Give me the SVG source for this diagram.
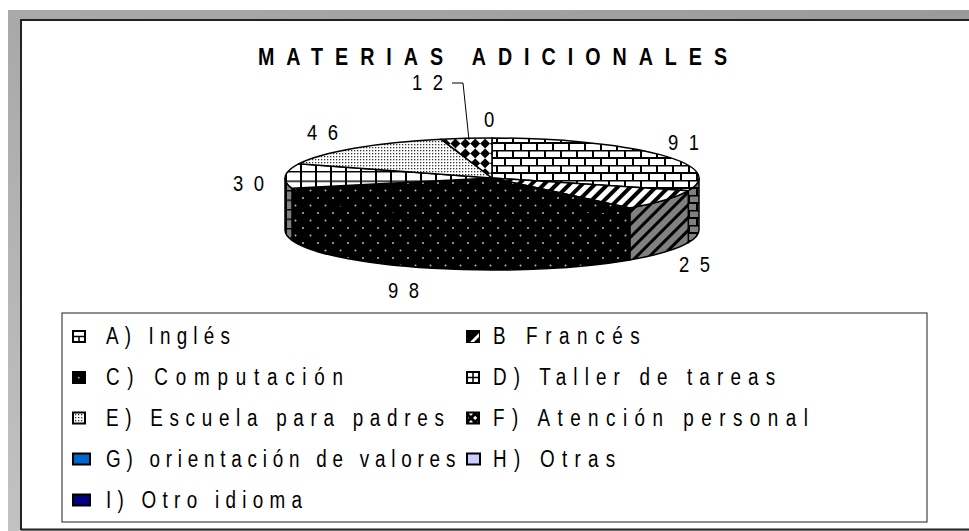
<svg xmlns="http://www.w3.org/2000/svg" width="969" height="531" viewBox="0 0 969 531">
<style>
.t{font-family:"Liberation Sans",Arial,sans-serif;fill:#000}
.title{font-size:24px;font-weight:bold}
.lab{font-size:22px}
.leg{font-size:23px}
.sl{stroke:#000;stroke-width:1.5;stroke-linejoin:round}
.mk{stroke:#000;stroke-width:2}
</style>
<defs>
<linearGradient id="gTop" x1="0" y1="0" x2="1" y2="0"><stop offset="0" stop-color="#aaaaaa"/><stop offset="1" stop-color="#9a9a9a"/></linearGradient>
<linearGradient id="gLeft" x1="0" y1="0" x2="0" y2="1"><stop offset="0" stop-color="#a8a8a8"/><stop offset="1" stop-color="#c2c2c2"/></linearGradient>
<pattern id="brick" patternUnits="userSpaceOnUse" width="16" height="15">
<rect width="16" height="15" fill="#fff"/>
<path d="M0 0.5H16M0 8H16M1 0V8M9 8V15" stroke="#000" stroke-width="2"/>
</pattern>
<pattern id="brickS" patternUnits="userSpaceOnUse" width="16" height="15">
<rect width="16" height="15" fill="#808080"/>
<path d="M0 0.5H16M0 8H16M1 0V8M9 8V15" stroke="#000" stroke-width="2"/>
</pattern>
<pattern id="stripe" patternUnits="userSpaceOnUse" width="9" height="9" patternTransform="rotate(45)">
<rect width="9" height="9" fill="#fff"/><rect width="4" height="9" fill="#000"/>
</pattern>
<pattern id="stripeS" patternUnits="userSpaceOnUse" width="9" height="9" patternTransform="rotate(45)">
<rect width="9" height="9" fill="#808080"/><rect width="3" height="9" fill="#000"/>
</pattern>
<pattern id="dots" patternUnits="userSpaceOnUse" width="15" height="15">
<rect width="15" height="15" fill="#000"/>
<circle cx="3" cy="3" r="1" fill="#bbb"/><circle cx="10.5" cy="10.5" r="1" fill="#bbb"/>
</pattern>
<pattern id="grid" patternUnits="userSpaceOnUse" width="15" height="9.5">
<rect width="15" height="9.5" fill="#fff"/>
<path d="M0 0.5H15M1 0V9.5" stroke="#000" stroke-width="2"/>
</pattern>
<pattern id="gridS" patternUnits="userSpaceOnUse" width="15" height="9.5">
<rect width="15" height="9.5" fill="#808080"/>
<path d="M0 0.5H15M1 0V9.5" stroke="#000" stroke-width="2"/>
</pattern>
<pattern id="stip" patternUnits="userSpaceOnUse" width="3" height="3">
<rect width="3" height="3" fill="#fff"/><rect width="1.3" height="1.3" fill="#333"/>
</pattern>
<pattern id="check" patternUnits="userSpaceOnUse" width="14" height="14" patternTransform="rotate(45)">
<rect width="14" height="14" fill="#fff"/><rect width="7" height="7" fill="#000"/><rect x="7" y="7" width="7" height="7" fill="#000"/>
</pattern>
<pattern id="checkM" patternUnits="userSpaceOnUse" width="6" height="6" patternTransform="rotate(45)">
<rect width="6" height="6" fill="#000"/><rect width="3" height="3" fill="#fff"/>
</pattern>
</defs>

<g id="frame">
<rect x="8" y="10" width="961" height="521" fill="url(#gLeft)"/>
<rect x="8" y="10" width="961" height="9" fill="url(#gTop)"/>
<rect x="20" y="19" width="949" height="511" fill="#fff"/>
<path d="M21 530V20H969" fill="none" stroke="#222" stroke-width="2"/>
<path d="M21 529.5H969" fill="none" stroke="#222" stroke-width="2"/>
</g>

<text id="title" class="t title" transform="translate(258 65) scale(0.82 1)" textLength="572" lengthAdjust="spacing">MATERIAS ADICIONALES</text>

<g id="pie">
<g id="sides">
<path class="sl" fill="url(#brickS)" d="M699 178A207 40 0 0 1 688.3 190.7L688.3 242.7A207 40 0 0 0 699 230Z"/>
<path class="sl" fill="url(#stripeS)" d="M688.3 190.7A207 40 0 0 1 629.8 207.9L629.8 259.9A207 40 0 0 0 688.3 242.7Z"/>
<path class="sl" fill="url(#dots)" d="M629.8 207.9A207 40 0 0 1 292 188.3L292 240.3A207 40 0 0 0 629.8 259.9Z"/>
<path class="sl" fill="url(#gridS)" d="M292 188.3A207 40 0 0 1 285 178L285 230A207 40 0 0 0 292 240.3Z"/>
</g>
<g id="slice-A"><path class="sl" fill="url(#brick)" d="M492 178L492 138A207 40 0 0 1 688.3 190.7Z"/></g>
<g id="slice-B"><path class="sl" fill="url(#stripe)" d="M492 178L688.3 190.7A207 40 0 0 1 629.8 207.9Z"/></g>
<g id="slice-C"><path class="sl" fill="url(#dots)" d="M492 178L629.8 207.9A207 40 0 0 1 292 188.3Z"/></g>
<g id="slice-D"><path class="sl" fill="url(#grid)" d="M492 178L292 188.3A207 40 0 0 1 298.6 163.8Z"/></g>
<g id="slice-E"><path class="sl" fill="url(#stip)" d="M492 178L298.6 163.8A207 40 0 0 1 440.9 139.2Z"/></g>
<g id="slice-F"><path class="sl" fill="url(#check)" d="M492 178L440.9 139.2A207 40 0 0 1 492 138Z"/></g>
</g>

<g id="connectors">
<path d="M452 83H463L469 140" fill="none" stroke="#000" stroke-width="1"/>
</g>

<g id="labels">
<text class="t lab" transform="translate(412 90) scale(0.84 1)" textLength="37" lengthAdjust="spacing">12</text>
<text class="t lab" transform="translate(484 127) scale(0.84 1)">0</text>
<text class="t lab" transform="translate(307 140) scale(0.84 1)" textLength="37" lengthAdjust="spacing">46</text>
<text class="t lab" transform="translate(668 150) scale(0.84 1)" textLength="37" lengthAdjust="spacing">91</text>
<text class="t lab" transform="translate(233 191) scale(0.84 1)" textLength="37" lengthAdjust="spacing">30</text>
<text class="t lab" transform="translate(679 272) scale(0.84 1)" textLength="37" lengthAdjust="spacing">25</text>
<text class="t lab" transform="translate(388 298) scale(0.84 1)" textLength="37" lengthAdjust="spacing">98</text>
</g>

<g id="legend">
<rect x="62" y="313" width="865" height="209" fill="#fff" stroke="#444" stroke-width="1.2"/>
<g id="leg-A"><rect class="mk" x="73" y="331" width="12" height="11" fill="#fff"/><path d="M73 336.5H85M79 336.5V342" stroke="#000" stroke-width="1.5"/><text class="t leg" transform="translate(106 344) scale(0.82 1)" textLength="151" lengthAdjust="spacing">A) Inglés</text></g>
<g id="leg-B"><rect class="mk" x="467" y="331" width="12" height="11" fill="#000"/><path d="M470 342L479 333V337L474 342Z" fill="#fff"/><text class="t leg" transform="translate(493 344) scale(0.82 1)" textLength="179" lengthAdjust="spacing">B Francés</text></g>
<g id="leg-C"><rect class="mk" x="73" y="372" width="12" height="11" fill="#000"/><rect x="78" y="377" width="1.5" height="1.5" fill="#aaa"/><text class="t leg" transform="translate(106 385) scale(0.82 1)" textLength="289" lengthAdjust="spacing">C) Computación</text></g>
<g id="leg-D"><rect class="mk" x="467" y="372" width="12" height="11" fill="#fff"/><path d="M467 377.5H479M473 372V383" stroke="#000" stroke-width="1.5"/><text class="t leg" transform="translate(493 385) scale(0.82 1)" textLength="344" lengthAdjust="spacing">D) Taller de tareas</text></g>
<g id="leg-E"><rect class="mk" x="73" y="412.5" width="12" height="11" fill="url(#stip)"/><text class="t leg" transform="translate(106 425.5) scale(0.82 1)" textLength="412" lengthAdjust="spacing">E) Escuela para padres</text></g>
<g id="leg-F"><rect class="mk" x="467" y="412.5" width="12" height="11" fill="url(#checkM)"/><text class="t leg" transform="translate(493 425.5) scale(0.82 1)" textLength="384" lengthAdjust="spacing">F) Atención personal</text></g>
<g id="leg-G"><rect class="mk" x="73" y="453.5" width="17" height="11" fill="#0066cc"/><text class="t leg" transform="translate(106 466.5) scale(0.82 1)" textLength="426" lengthAdjust="spacing">G) orientación de valores</text></g>
<g id="leg-H"><rect class="mk" x="467" y="453.5" width="13" height="11" fill="#ccccff"/><text class="t leg" transform="translate(493 466.5) scale(0.82 1)" textLength="149" lengthAdjust="spacing">H) Otras</text></g>
<g id="leg-I"><rect class="mk" x="73" y="494.5" width="17" height="11" fill="#000080"/><text class="t leg" transform="translate(106 507.5) scale(0.82 1)" textLength="239" lengthAdjust="spacing">I) Otro idioma</text></g>
</g>
</svg>
